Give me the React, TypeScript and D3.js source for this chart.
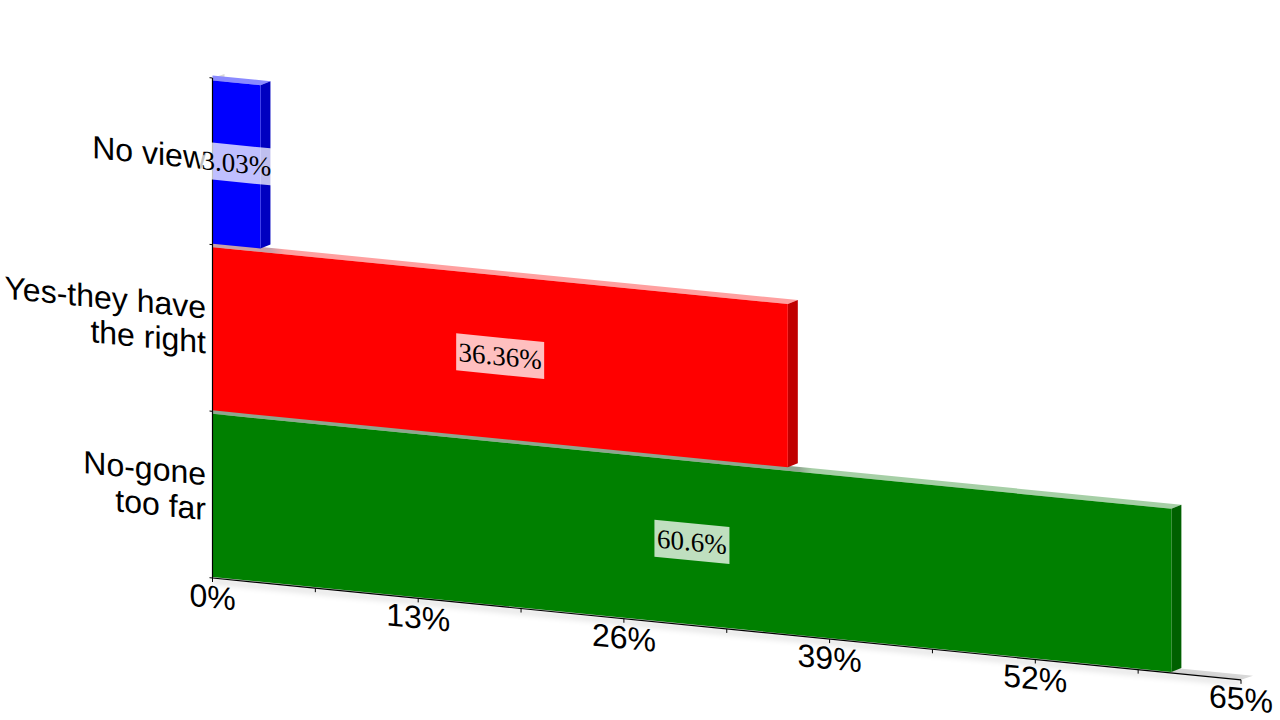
import * as d3 from 'd3';
import React from 'react';

// bottom-up order of the source chart's horizontal bars
const categories = ['No view', 'Yes-they have|the right', 'No-gone|too far'];
const values = [3.03, 36.36, 60.6];
const valueLabels = ['3.03%', '36.36%', '60.6%'];
const frontColors = ['#0000ff', '#ff0000', '#008000'];
const sideColors = ['#0000c0', '#c00000', '#006000'];
const topColors = ['#8a8aff', '#ffa0a0', '#a6cfa6'];
const topShaded = ['#8a8aff', '#c8a0a8', '#8fa58f'];
const majorTicks = [0, 13, 26, 39, 52, 65];
const minorTicks = [6.5, 19.5, 32.5, 45.5, 58.5];

const SHEAR = 0.099;
const DX = 10;
const DY = -4;

const x = d3.scaleLinear().domain([0, 65]).range([212.5, 1241]);
const band = d3.scaleBand().domain(categories).range([78, 578]);

// floor/bar lines fall to the right by a fixed shear
const sy = (px: number, y0: number) => y0 + (px - x(0)) * SHEAR;
const poly = (pts: [number, number][]) => d3.line()(pts) + 'Z';
const shear = (cx: number, cy: number) => `matrix(1,${SHEAR},0,1,${cx},${cy})`;

export default function App() {
  const x0 = x(0);
  const yTicks = [...categories.map((c) => band(c)!), 578];
  const order = d3.range(categories.length).reverse();

  return (
    <svg width={1280} height={720} style={{ position: 'absolute', left: 0, top: 0 }}>
      <defs>
        <filter id="soft" x="-5%" y="-50%" width="110%" height="200%">
          <feGaussianBlur stdDeviation="3" />
        </filter>
        {categories.map((c, i) => {
          const prevEnd = i > 0 ? x(values[i - 1]) + DX : x0;
          return (
            <linearGradient key={c} id={`top${i}`} gradientUnits="userSpaceOnUse" x1={x0} x2={x(values[i]) + DX} y1={0} y2={0}>
              <stop offset={(prevEnd - x0) / (x(values[i]) + DX - x0)} stopColor={topShaded[i]} />
              <stop offset={Math.min(1, (prevEnd + 14 - x0) / (x(values[i]) + DX - x0))} stopColor={topColors[i]} />
            </linearGradient>
          );
        })}
      </defs>

      {/* floor and wall */}
      <path d={poly([[x0, 578], [x(65), sy(x(65), 578)], [x(65) + 12, sy(x(65), 578) - 4], [x0 + 12, 574]])} fill="#d9d9d9" />
      <path d={poly([[x0, 78], [x0 + 12, 74], [x0 + 12, 574], [x0, 578]])} fill="#d9d9d9" />
      <path
        d={d3.line()([[x0, 581], [x(65), sy(x(65), 581)]]) as string}
        stroke="#000"
        strokeOpacity={0.3}
        strokeWidth={2}
        fill="none"
        filter="url(#soft)"
      />

      {/* bars */}
      {order.map((i) => {
        const c = categories[i];
        const xr = x(values[i]);
        const top = band(c)! + 2.5;
        const bot = band(c)! + band.bandwidth() - 1;
        const back = (px: number, y0: number) => sy(px, y0) + DY - DX * SHEAR;
        return (
          <g key={c}>
            <path
              d={poly([[x0, top], [xr, sy(xr, top)], [xr + DX, back(xr + DX, top)], [x0, back(x0, top)]])}
              fill={`url(#top${i})`}
            />
            <path
              d={poly([[xr, sy(xr, top)], [xr + DX, back(xr + DX, top)], [xr + DX, back(xr + DX, bot)], [xr, sy(xr, bot)]])}
              fill={sideColors[i]}
            />
            <path d={poly([[x0, top], [xr, sy(xr, top)], [xr, sy(xr, bot)], [x0, bot]])} fill={frontColors[i]} />
          </g>
        );
      })}

      {/* axes */}
      <line x1={x0} x2={x0} y1={78} y2={578} stroke="#000" strokeWidth={1.2} />
      <line x1={x0} x2={x(65)} y1={578} y2={sy(x(65), 578)} stroke="#000" strokeWidth={1.2} />
      {yTicks.map((t) => (
        <line key={t} x1={x0 - 3} x2={x0} y1={t - 0.3} y2={t} stroke="#000" strokeWidth={1} />
      ))}
      {[...majorTicks, ...minorTicks].map((t) => (
        <line key={t} x1={x(t)} x2={x(t)} y1={sy(x(t), 578)} y2={sy(x(t), 578) + 4} stroke="#000" strokeWidth={1} />
      ))}

      {/* tick labels */}
      <g fontFamily="'Liberation Sans'" fontSize={32} fill="#000">
        {majorTicks.map((t) => (
          <text key={t} transform={shear(x(t), sy(x(t), 578) + 19)} textAnchor="middle" dominantBaseline="central">
            {t}%
          </text>
        ))}
        {categories.map((c) => {
          const lines = c.split('|');
          const mid = band(c)! + band.bandwidth() / 2 - 3;
          return lines.map((l, j) => (
            <text
              key={l}
              transform={shear(206, mid + (j - (lines.length - 1) / 2) * 35)}
              textAnchor="end"
              dominantBaseline="central"
            >
              {l}
            </text>
          ));
        })}
      </g>

      {/* value labels */}
      <g fontFamily="'Liberation Serif'" fontSize={27}>
        {categories.map((c, i) => {
          const xr = x(values[i]);
          const cx = (x0 + xr) / 2;
          const top = band(c)! + 2.5;
          const bot = band(c)! + band.bandwidth() - 1;
          const cy = sy(cx, (top + bot) / 2) - 1;
          const w = valueLabels[i].length === 6 ? 88 : valueLabels[i] === '60.6%' ? 75 : 73;
          return (
            <g key={c} transform={shear(cx, cy)}>
              <rect x={-w / 2} y={-18.5} width={w} height={37} fill="#fff" fillOpacity={0.75} />
              <text textAnchor="middle" dominantBaseline="central" fill="#000">
                {valueLabels[i]}
              </text>
            </g>
          );
        })}
      </g>
    </svg>
  );
}
